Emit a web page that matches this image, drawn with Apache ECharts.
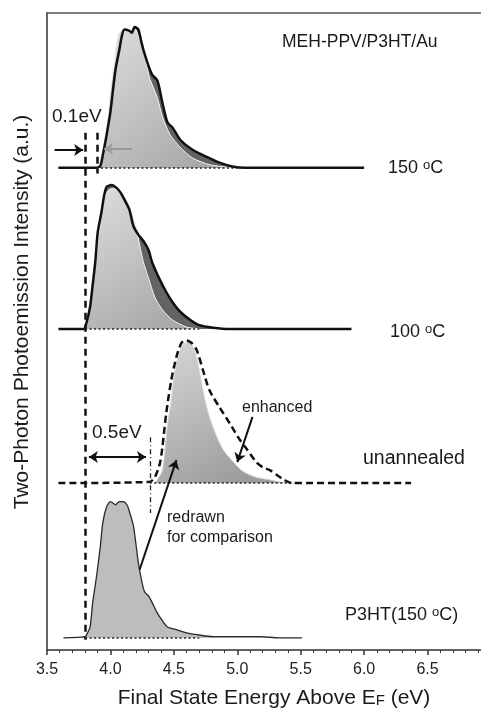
<!DOCTYPE html>
<html>
<head>
<meta charset="utf-8">
<script src="https://cdn.jsdelivr.net/npm/echarts@6/dist/echarts.min.js"></script>
<style>
    html, body { margin: 0; padding: 0; background: #fff; }
    #main { width: 481px; height: 709px; }
</style>
</head>
<body>
<div id="main"></div>
<script>
    var FONT = '"Liberation Sans", Arial, Helvetica, sans-serif';

    // x axis ticks
    var xTickLabels = ['3.5', '4.0', '4.5', '5.0', '5.5', '6.0', '6.5'];

    // vertical offsets of the four spectra (a.u.)
    var off150 = 75.7, off100 = 50.4, offUn = 26.2, offP3 = 1.9;

    // 150 C : MEH-PPV/P3HT/Au (black outline) and P3HT shifted (light grey)
    var e150 = [3.59, 3.89, 3.92, 3.94, 3.97, 4.00, 4.02, 4.04, 4.07, 4.09, 4.11, 4.15, 4.17, 4.19, 4.22, 4.24, 4.26, 4.30, 4.33, 4.37, 4.41, 4.45, 4.49, 4.55, 4.65, 4.76, 4.86, 4.96, 5.06, 6.00];
    var i150 = [0, 0, 0.3, 2.0, 5.2, 8.8, 12.2, 15.4, 18.5, 20.7, 21.7, 21.5, 21.2, 22.1, 21.7, 20.1, 18.5, 16.0, 14.6, 13.7, 10.2, 7.1, 6.3, 4.4, 2.8, 1.7, 0.8, 0.2, 0, 0];
    var e150ref = [3.89, 3.92, 3.95, 3.98, 4.00, 4.03, 4.05, 4.07, 4.11, 4.14, 4.17, 4.19, 4.22, 4.26, 4.29, 4.31, 4.37, 4.41, 4.47, 4.55, 4.65, 4.78, 4.92, 5.02];
    var i150ref = [0, 0.5, 3.1, 7.5, 12.2, 16.6, 19.8, 21.2, 21.7, 21.4, 21.7, 22.0, 20.7, 18.5, 15.7, 14.0, 11.0, 8.0, 5.2, 3.2, 1.5, 0.5, 0.1, 0];

    // 100 C
    var e100 = [3.59, 3.79, 3.81, 3.84, 3.86, 3.88, 3.90, 3.93, 3.95, 3.97, 4.01, 4.05, 4.08, 4.11, 4.15, 4.18, 4.22, 4.26, 4.30, 4.33, 4.39, 4.44, 4.49, 4.55, 4.63, 4.70, 4.81, 4.94, 5.90];
    var i100 = [0, 0, 0.9, 3.5, 6.9, 10.4, 15.2, 18.4, 20.9, 22.3, 22.6, 22.1, 21.4, 20.3, 18.7, 16.2, 14.8, 13.8, 12.4, 10.4, 7.7, 5.8, 4.2, 2.7, 1.4, 0.6, 0.2, 0, 0];
    var e100ref = [3.80, 3.82, 3.85, 3.89, 3.92, 3.95, 3.98, 4.02, 4.06, 4.11, 4.14, 4.17, 4.20, 4.23, 4.26, 4.30, 4.35, 4.41, 4.49, 4.60, 4.70];
    var i100ref = [0, 1.7, 6.1, 11.6, 16.8, 20.3, 21.7, 22.1, 21.8, 20.9, 19.8, 18.2, 16.2, 13.2, 10.5, 8.0, 5.0, 3.0, 1.4, 0.3, 0];

    // unannealed (dashed, enhanced) and P3HT redrawn for comparison
    var eUn = [3.59, 4.31, 4.35, 4.39, 4.41, 4.44, 4.48, 4.52, 4.56, 4.60, 4.64, 4.68, 4.73, 4.78, 4.86, 4.94, 5.02, 5.08, 5.15, 5.20, 5.26, 5.31, 5.37, 5.43, 6.37];
    var iUn = [0, 0.2, 0.9, 3.1, 5.7, 11.0, 16.2, 19.8, 22.0, 22.4, 22.0, 20.9, 17.7, 14.6, 11.9, 9.4, 6.8, 5.2, 3.3, 2.5, 2.0, 1.3, 0.5, 0, 0];
    var eUnRef = [4.35, 4.37, 4.41, 4.43, 4.45, 4.48, 4.50, 4.53, 4.57, 4.61, 4.65, 4.68, 4.70, 4.74, 4.78, 4.84, 4.89, 4.96, 5.04, 5.15, 5.26, 5.33, 5.43];
    var iUnRef = [0, 0.5, 2.0, 5.2, 9.1, 13.0, 16.5, 19.6, 21.7, 22.1, 21.4, 19.6, 17.7, 13.5, 10.4, 7.2, 5.2, 3.5, 1.9, 0.9, 0.5, 0.2, 0];

    // P3HT (150 C)
    var eP3 = [3.63, 3.80, 3.82, 3.84, 3.86, 3.89, 3.92, 3.94, 3.97, 4.00, 4.04, 4.07, 4.10, 4.13, 4.15, 4.18, 4.20, 4.22, 4.25, 4.27, 4.30, 4.33, 4.37, 4.41, 4.45, 4.52, 4.60, 4.68, 4.81, 4.94, 5.18, 5.33, 5.51];
    var iP3 = [0, 0.2, 0.8, 1.7, 5.5, 9.6, 14.3, 18.1, 20.6, 21.4, 20.9, 21.4, 21.4, 20.9, 19.8, 17.7, 14.9, 11.8, 8.6, 7.2, 6.6, 5.5, 3.9, 2.7, 1.7, 1.3, 0.8, 0.5, 0.2, 0.2, 0.2, 0, 0];

    function xy(e, v) {
        return e.map(function (x, k) { return [x, v[k]]; });
    }

    function curve(data, axis, z, line, fill) {
        var s = {
            type: 'line', yAxisIndex: axis, data: data, symbol: 'none',
            smooth: 0.25, z: z, silent: true, lineStyle: line
        };
        if (fill) s.areaStyle = { color: fill, opacity: 1, origin: 'auto' };
        return s;
    }

    // markLine only series (annotations in the frame axis units)
    function marks(lines, style, symbol) {
        return {
            type: 'line', yAxisIndex: 0, data: [], z: 6, silent: true,
            markLine: {
                silent: true, animation: false,
                symbol: symbol || ['none', 'none'], symbolSize: 9,
                label: { show: false },
                lineStyle: style,
                emphasis: { disabled: true },
                data: lines.map(function (l) { return [{ coord: l[0] }, { coord: l[1] }]; })
            }
        };
    }

    var lightFill = {
        type: 'linear', x: 0, y: 0, x2: 0.8, y2: 1,
        colorStops: [{ offset: 0, color: '#dedede' }, { offset: 1, color: '#a6a6a6' }]
    };
    var unFill = {
        type: 'linear', x: 0, y: 0, x2: 0.6, y2: 1,
        colorStops: [{ offset: 0, color: '#d8d8d8' }, { offset: 1, color: '#9c9c9c' }]
    };

    var black = { color: '#111', width: 2.5 };

    var series = [
        curve(xy(e150, i150), 1, 2, { opacity: 0 }, '#636363'),
        curve(xy(e150ref, i150ref), 1, 3, { color: '#f4f4f4', width: 1 }, lightFill),
        curve(xy(e150, i150), 1, 4, black),

        curve(xy(e100, i100), 2, 2, { opacity: 0 }, '#636363'),
        curve(xy(e100ref, i100ref), 2, 3, { color: '#f4f4f4', width: 1 }, lightFill),
        curve(xy(e100, i100), 2, 4, black),

        curve(xy(eUnRef, iUnRef), 3, 3, { color: '#d4d4d4', width: 1 }, unFill),
        curve(xy(eUn, iUn), 3, 4, { color: '#111', width: 2.5, type: [7, 4] }),

        curve(xy(eP3, iP3), 4, 3, { color: '#2a2a2a', width: 1.3 }, '#bdbdbd'),

        // heavy dashed guides at 3.8 and 3.9 eV
        marks([[[3.80, 81.2], [3.80, 1.6]], [[3.90, 81.2], [3.90, 74.8]]],
            { color: '#111', width: 2.5, type: [7, 5] }),
        // dash-dot guide at onset of unannealed
        marks([[[4.31, 33.4], [4.31, 21.5]]],
            { color: '#222', width: 1.3, type: [5, 3, 1, 3] }),
        // dotted baselines under the filled peaks
        marks([
            [[3.89, off150], [5.0, off150]],
            [[3.80, off100], [4.70, off100]],
            [[4.31, offUn], [5.45, offUn]],
            [[3.80, offP3], [4.70, offP3]]
        ], { color: '#222', width: 1.5, type: [2, 2.5] }),
        // black arrows
        marks([
            [[3.56, 78.5], [3.785, 78.5]],
            [[5.12, 36.6], [5.00, 29.5]],
            [[4.23, 12.6], [4.52, 29.8]]
        ], { color: '#111', width: 2, type: 'solid' }, ['none', 'arrow']),
        // grey arrow
        marks([[[4.17, 78.7], [3.95, 78.7]]], { color: '#9a9a9a', width: 2, type: 'solid' }, ['none', 'arrow']),
        // 0.5 eV double arrow
        marks([[[3.83, 30.3], [4.28, 30.3]]], { color: '#111', width: 2, type: 'solid' }, ['arrow', 'arrow'])
    ];

    function txt(text, x, y, size, align, rotation) {
        var t = {
            type: 'text', x: x, y: y, silent: true, z: 100,
            style: {
                text: text, fontSize: size, fontFamily: FONT, fill: '#1a1a1a',
                align: align || 'left', verticalAlign: 'middle',
                rich: {
                    sup: { fontSize: Math.round(size * 0.7), fontFamily: FONT, fill: '#1a1a1a', verticalAlign: 'top' },
                    sub: { fontSize: Math.round(size * 0.7), fontFamily: FONT, fill: '#1a1a1a', verticalAlign: 'bottom' }
                }
            }
        };
        if (rotation) t.rotation = rotation;
        return t;
    }

    var yAxes = [{
        type: 'value', min: 0, max: 100, position: 'left',
        axisLine: { show: true, onZero: false, lineStyle: { color: '#333', width: 1.5 } },
        axisTick: { show: false }, axisLabel: { show: false }, splitLine: { show: false }
    }];
    // one hidden axis per spectrum, so that each baseline sits at 0
    [off150, off100, offUn, offP3].forEach(function (o) {
        yAxes.push({
            type: 'value', show: false, position: 'left', min: -o, max: 100 - o,
            axisLine: { show: false }, axisTick: { show: false }, axisLabel: { show: false },
            splitLine: { show: false }
        });
    });

    var option = {
        animation: false,
        backgroundColor: '#fff',
        grid: { left: 47, right: -10, top: 13, bottom: 59, containLabel: false, outerBoundsMode: 'none' },
        xAxis: [{
            type: 'value', min: 3.5, max: 7.0, interval: 0.5, position: 'bottom',
            axisLine: { onZero: false, lineStyle: { color: '#333', width: 1.5 } },
            axisTick: { show: true, length: 5, lineStyle: { color: '#333', width: 1.5 } },
            minorTick: { show: true, splitNumber: 5, length: 3, lineStyle: { color: '#333', width: 1 } },
            splitLine: { show: false }, minorSplitLine: { show: false },
            axisLabel: {
                fontSize: 16, fontFamily: FONT, color: '#222', margin: 12, showMaxLabel: false,
                formatter: function (v) {
                    return xTickLabels[Math.round((v - 3.5) / 0.5)] || '';
                }
            }
        }, {
            type: 'value', min: 3.5, max: 7.0, position: 'top',
            axisLine: { show: true, onZero: false, lineStyle: { color: '#555', width: 1.5 } },
            axisTick: { show: false }, axisLabel: { show: false }, splitLine: { show: false }
        }],
        yAxis: yAxes,
        series: series,
        graphic: [
            txt('MEH-PPV/P3HT/Au', 282, 42, 17.5),
            txt('0.1eV', 52, 117, 19),
            txt('150 {sup|o}C', 388, 168, 18),
            txt('100 {sup|o}C', 390, 332, 18),
            txt('0.5eV', 92, 433, 19),
            txt('enhanced', 242, 408, 16),
            txt('unannealed', 363, 459, 19.5),
            txt('redrawn', 167, 518, 16),
            txt('for comparison', 167, 538, 16),
            txt('P3HT(150 {sup|o}C)', 345, 615, 18),
            txt('Final State Energy Above E{sub|F} (eV)', 274, 698, 21, 'center'),
            txt('Two-Photon Photoemission Intensity (a.u.)', 22, 312, 21, 'center', Math.PI / 2)
        ]
    };

    var myChart = echarts.init(document.getElementById('main'));
    myChart.setOption(option);
</script>
</body>
</html>
